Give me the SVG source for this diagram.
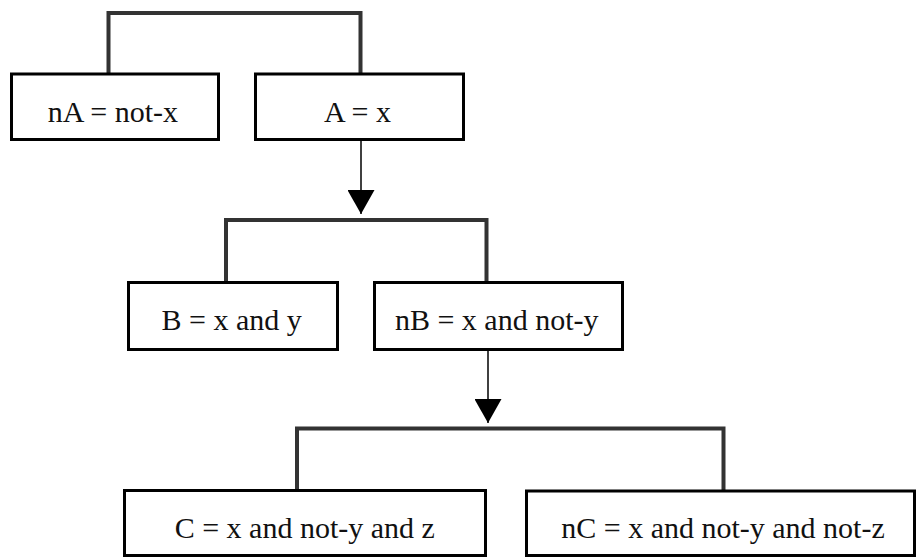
<svg xmlns="http://www.w3.org/2000/svg" width="917" height="558" viewBox="0 0 917 558">
<style>
.box{fill:#fff;stroke:#000;stroke-width:3}
.lbl{font-size:30px;fill:#111;text-anchor:middle}
.bracket{fill:none;stroke:#333;stroke-width:4;stroke-linejoin:miter}
.arrow{fill:none;stroke:#000;stroke-width:1.5}
</style>
<defs>
<marker id="ah" markerUnits="userSpaceOnUse" markerWidth="24" markerHeight="27" refX="24" refY="13.5" orient="auto">
<path d="M0,0 L24,13.5 L0,27 z" fill="#000"/>
</marker>
</defs>
<rect width="917" height="558" fill="#fff"/>
<g id="connectors">
<path class="bracket" d="M108.5,74 V13 H360.5 V74"/>
<path class="bracket" d="M226,283 V220 H486.5 V283"/>
<path class="bracket" d="M297,491 V428.5 H723.5 V491"/>
<line class="arrow" x1="361" y1="141" x2="361" y2="214" marker-end="url(#ah)"/>
<line class="arrow" x1="488" y1="350" x2="488" y2="423" marker-end="url(#ah)"/>
</g>
<g id="nA">
<rect class="box" x="11.5" y="74" width="207" height="65.5"/>
<text class="lbl" style="font-family:'Liberation Serif'" x="113" y="121.5">nA = not-x</text>
</g>
<g id="A">
<rect class="box" x="255.5" y="74" width="208" height="65.5"/>
<text class="lbl" style="font-family:'Liberation Serif'" x="357.5" y="121.5">A = x</text>
</g>
<g id="B">
<rect class="box" x="128.5" y="282.5" width="209" height="67"/>
<text class="lbl" style="font-family:'Liberation Serif'" x="231.7" y="329.5">B = x and y</text>
</g>
<g id="nB">
<rect class="box" x="374.5" y="282.5" width="248" height="67"/>
<text class="lbl" style="font-family:'Liberation Serif'" x="496.7" y="329.5">nB = x and not-y</text>
</g>
<g id="C">
<rect class="box" x="124.5" y="490.5" width="361" height="65"/>
<text class="lbl" style="font-family:'Liberation Serif'" x="304.8" y="538.3">C = x and not-y and z</text>
</g>
<g id="nC">
<rect class="box" x="526.5" y="491" width="388" height="64.5"/>
<text class="lbl" style="font-family:'Liberation Serif'" x="723" y="538.3">nC = x and not-y and not-z</text>
</g>
</svg>
